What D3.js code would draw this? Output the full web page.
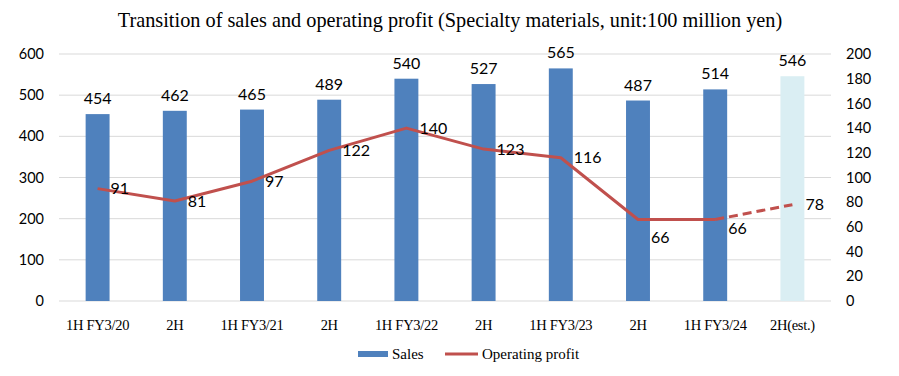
<!DOCTYPE html>
<html>
<head>
<meta charset="utf-8">
<script src="https://cdn.jsdelivr.net/npm/d3@7"></script>
<style>
  body { margin: 0; background: #fff; }
  text { fill: #000; }
</style>
</head>
<body>
<div id="canvas"></div>
<script>
const categories = ["1H FY3/20", "2H", "1H FY3/21", "2H", "1H FY3/22", "2H", "1H FY3/23", "2H", "1H FY3/24", "2H(est.)"];
const sales = [454, 462, 465, 489, 540, 527, 565, 487, 514, 546];
const profit = [91, 81, 97, 122, 140, 123, 116, 66, 66, 78];
const estimated = [false, false, false, false, false, false, false, false, false, true];
const leftTicks = [0, 100, 200, 300, 400, 500, 600];
const rightTicks = [0, 20, 40, 60, 80, 100, 120, 140, 160, 180, 200];
// small vertical nudges for profit labels (Excel placed the 66s a bit lower)
const labelDy = [0, 0, 0, 0, 0, 0, 0, 18, 9, 0];

const width = 899;
const height = 376;
const margin = { top: 54, left: 59, bottom: 75, right: 68 };
const iwidth = width - margin.left - margin.right;
const iheight = height - margin.top - margin.bottom;

const svg = d3.select("#canvas").append("svg")
  .attr("width", width)
  .attr("height", height);

svg.append("text")
  .attr("x", 450)
  .attr("y", 27)
  .attr("text-anchor", "middle")
  .style("font-family", "'Liberation Serif', serif")
  .style("font-size", "20.3px")
  .text("Transition of sales and operating profit (Specialty materials, unit:100 million yen)");

const g = svg.append("g").attr("transform", `translate(${margin.left},${margin.top})`);

const idx = categories.map((d, i) => i);
const x = d3.scaleBand().domain(idx).range([0, iwidth]).paddingInner(0.69).paddingOuter(0.345);
const y = d3.scaleLinear().domain([0, 600]).range([iheight, 0]);
const y2 = d3.scaleLinear().domain([0, 200]).range([iheight, 0]);
const cx = i => x(i) + x.bandwidth() / 2;

// gridlines
g.selectAll("line.grid").data(leftTicks).enter().append("line")
  .attr("class", "grid")
  .attr("x1", 0).attr("x2", iwidth)
  .attr("y1", d => y(d)).attr("y2", d => y(d))
  .attr("stroke", "#d9d9d9").attr("stroke-width", 1);

// bars
g.selectAll("rect.bar").data(idx).enter().append("rect")
  .attr("class", "bar")
  .attr("x", i => x(i))
  .attr("y", i => y(sales[i]))
  .attr("width", x.bandwidth())
  .attr("height", i => iheight - y(sales[i]))
  .attr("fill", i => estimated[i] ? "#daeef3" : "#4f81bd");

g.selectAll("text.barlabel").data(idx).enter().append("text")
  .attr("class", "barlabel")
  .attr("x", cx)
  .attr("y", i => y(sales[i]) - 10)
  .attr("text-anchor", "middle")
  .style("font-family", "Lato, sans-serif")
  .style("font-size", "16px")
  .text(i => sales[i]);

// axes
const leftAxis = g.append("g")
  .call(d3.axisLeft(y).tickValues(leftTicks).tickSize(0).tickPadding(15));
leftAxis.select(".domain").remove();
leftAxis.selectAll("text").style("font-family", "Lato, sans-serif").style("font-size", "14.5px");

const rightAxis = g.append("g")
  .attr("transform", `translate(${iwidth},0)`)
  .call(d3.axisRight(y2).tickValues(rightTicks).tickSize(0).tickPadding(15));
rightAxis.select(".domain").remove();
rightAxis.selectAll("text").style("font-family", "Lato, sans-serif").style("font-size", "14.5px");

const bottomAxis = g.append("g")
  .attr("transform", `translate(0,${iheight})`)
  .call(d3.axisBottom(x).tickFormat(i => categories[i]).tickSize(0).tickPadding(19));
bottomAxis.select(".domain").remove();
bottomAxis.selectAll("text")
  .style("font-family", "'Liberation Serif', serif")
  .style("font-size", "14.5px")
  .style("letter-spacing", "-0.3px");

// profit line: solid for results, dashed for estimate
const line = d3.line().x(i => cx(i)).y(i => y2(profit[i]));
const solidIdx = idx.filter(i => !estimated[i]);
const lastSolid = solidIdx[solidIdx.length - 1];
const dashIdx = idx.filter(i => i >= lastSolid);

g.append("path")
  .datum(solidIdx)
  .attr("d", line)
  .attr("fill", "none")
  .attr("stroke", "#c0504d")
  .attr("stroke-width", 3)
  .attr("stroke-linejoin", "round");

g.append("path")
  .datum(dashIdx)
  .attr("d", line)
  .attr("fill", "none")
  .attr("stroke", "#c0504d")
  .attr("stroke-width", 3)
  .attr("stroke-dasharray", "9,5");

g.selectAll("text.profitlabel").data(idx).enter().append("text")
  .attr("class", "profitlabel")
  .attr("x", i => cx(i) + 13)
  .attr("y", i => y2(profit[i]) + labelDy[i])
  .attr("dy", "0.35em")
  .style("font-family", "Lato, sans-serif")
  .style("font-size", "16px")
  .text(i => profit[i]);

// legend
const legend = svg.append("g").attr("transform", "translate(358,354)");
legend.append("rect").attr("x", 0).attr("y", -3).attr("width", 30).attr("height", 6).attr("fill", "#4f81bd");
legend.append("text").attr("x", 34).attr("y", 0).attr("dy", "0.35em")
  .style("font-family", "'Liberation Serif', serif").style("font-size", "15px").text("Sales");
legend.append("line").attr("x1", 87).attr("x2", 120).attr("y1", 0).attr("y2", 0)
  .attr("stroke", "#c0504d").attr("stroke-width", 3);
legend.append("text").attr("x", 124).attr("y", 0).attr("dy", "0.35em")
  .style("font-family", "'Liberation Serif', serif").style("font-size", "15px").text("Operating profit");
</script>
</body>
</html>
